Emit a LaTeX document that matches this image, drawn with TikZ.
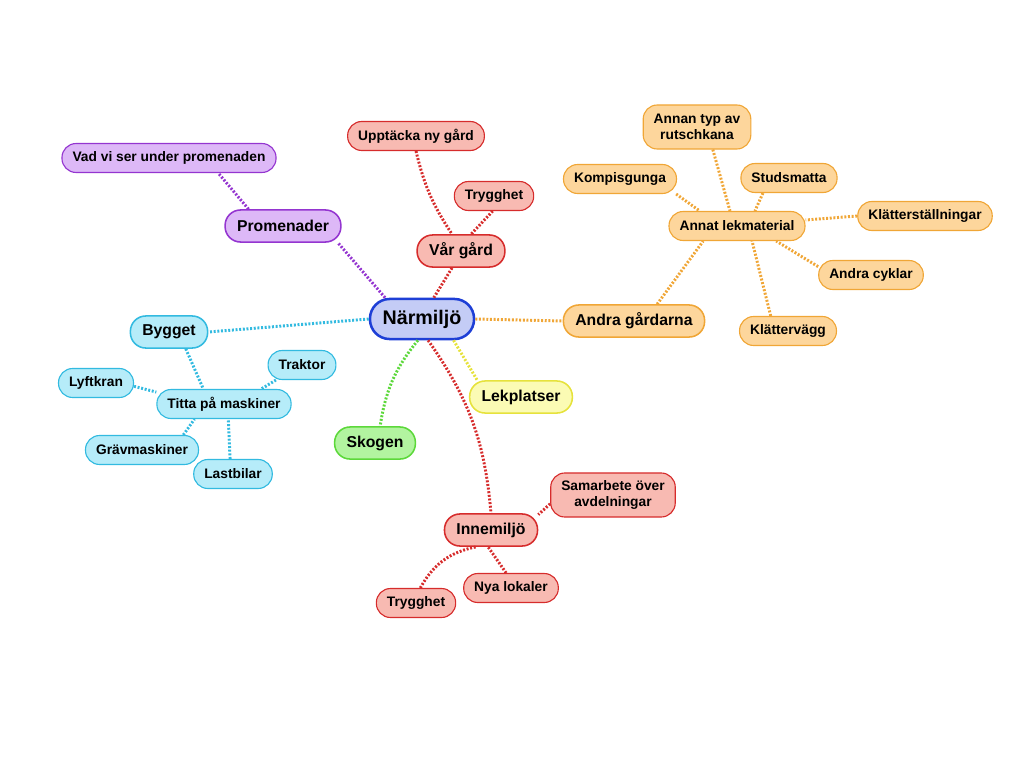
\documentclass[tikz,border=0pt]{standalone}
\usepackage{fontspec}
\setmainfont{Liberation Sans}
\definecolor{blueline}{HTML}{1E3FD6}
\definecolor{bluefill}{HTML}{C4CCF6}
\definecolor{purpline}{HTML}{9435D0}
\definecolor{purpfill}{HTML}{DDB8F7}
\definecolor{redline}{HTML}{D62C2C}
\definecolor{redfill}{HTML}{F8BAB2}
\definecolor{orangeline}{HTML}{F0A636}
\definecolor{orangefill}{HTML}{FDD69C}
\definecolor{cyanline}{HTML}{32BAE0}
\definecolor{cyanfill}{HTML}{B6ECF9}
\definecolor{yellowline}{HTML}{E6E23C}
\definecolor{yellowfill}{HTML}{FBFBB4}
\definecolor{greenline}{HTML}{5CD83A}
\definecolor{greenfill}{HTML}{B2F4A0}

\begin{document}
\begin{tikzpicture}[x=0.025cm,y=-0.025cm,
  hub/.style={draw=blueline,fill=bluefill,line width=1.8pt,rounded corners=14pt,minimum height=28.5pt,inner xsep=9pt,font=\fontsize{14}{16}\selectfont\bfseries},
  topic/.style={draw=#1line,fill=#1fill,line width=1.1pt,rounded corners=11pt,minimum height=22.8pt,inner xsep=8.5pt,font=\fontsize{11.2}{13}\selectfont\bfseries},
  leaf/.style={draw=#1line,fill=#1fill,line width=0.8pt,rounded corners=10pt,minimum height=20.6pt,inner xsep=7.5pt,inner ysep=4pt,align=center,font=\fontsize{9.8}{11.2}\selectfont\bfseries},
  twoline/.style={minimum height=31.3pt},
  link/.style={draw=#1line,line width=2.1pt,dash pattern=on 1.4pt off 1.2pt}]
\useasboundingbox (0,0) rectangle (1024,768);

\node[hub] (narmiljo) at (422,319) {Närmiljö};

\node[topic=purp] (promenader) at (283,226) {Promenader};
\node[leaf=purp] (vadvi) at (169,158) {Vad vi ser under promenaden};

\node[topic=red] (vargard) at (461,251) {Vår gård};
\node[leaf=red] (upptacka) at (416,136) {Upptäcka ny gård};
\node[leaf=red] (trygghet1) at (494,196) {Trygghet};

\node[topic=orange] (andra) at (634,321) {Andra gårdarna};
\node[leaf=orange] (annat) at (737,226) {Annat lekmaterial};
\node[leaf=orange,twoline] (rutschkana) at (697,127) {Annan typ av\\rutschkana};
\node[leaf=orange] (kompis) at (620,179) {Kompisgunga};
\node[leaf=orange] (studs) at (789,178) {Studsmatta};
\node[leaf=orange] (klatterst) at (925,216) {Klätterställningar};
\node[leaf=orange] (cyklar) at (871,275) {Andra cyklar};
\node[leaf=orange] (klattervagg) at (788,331) {Klättervägg};

\node[topic=cyan] (bygget) at (169,332) {Bygget};
\node[leaf=cyan] (titta) at (224,404) {Titta på maskiner};
\node[leaf=cyan] (traktor) at (302,365) {Traktor};
\node[leaf=cyan] (lyftkran) at (96,383) {Lyftkran};
\node[leaf=cyan] (gravm) at (142,450) {Grävmaskiner};
\node[leaf=cyan] (lastbilar) at (233,474) {Lastbilar};

\node[topic=yellow] (lekplatser) at (521,397) {Lekplatser};
\node[topic=green] (skogen) at (375,443) {Skogen};

\node[topic=red] (innemiljo) at (491,530) {Innemiljö};
\node[leaf=red,twoline] (samarbete) at (613,495) {Samarbete över\\avdelningar};
\node[leaf=red] (nyalokaler) at (511,588) {Nya lokaler};
\node[leaf=red] (trygghet2) at (416,603) {Trygghet};

\draw[link=purp] (narmiljo.150) -- (promenader.-17);
\draw[link=purp] (promenader.154) -- (vadvi.-17);

\draw[link=red] (narmiljo.61) -- (vargard.-118);
\draw[link=red] (upptacka.south) to[bend right=10] (vargard.118);
\draw[link=red] (trygghet1.-95) -- (vargard.59);

\draw[link=orange] (narmiljo.east) -- (andra.west);
\draw[link=orange] (andra.36) -- (annat.-156);
\draw[link=orange] (rutschkana.-55) -- (annat.115);
\draw[link=orange] (kompis.-15) -- (annat.158);
\draw[link=orange] (studs.-150) -- (annat.40);
\draw[link=orange] (klatterst.west) -- (annat.5);
\draw[link=orange] (cyklar.171) -- (annat.-21);
\draw[link=orange] (klattervagg.139) -- (annat.-45);

\draw[link=cyan] (narmiljo.west) -- (bygget.east);
\draw[link=cyan] (bygget.-45) -- (titta.144);
\draw[link=cyan] (traktor.-150) -- (titta.22);
\draw[link=cyan] (lyftkran.-5) -- (titta.170);
\draw[link=cyan] (gravm.20) -- (titta.-153);
\draw[link=cyan] (lastbilar.101) -- (titta.-74);

\draw[link=yellow] (narmiljo.-34) -- (lekplatser.159);
\draw[link=green] (narmiljo.-101) to[bend right=15] (skogen.73);

\draw[link=red] (narmiljo.-74) to[bend left=15] (innemiljo.north);
\draw[link=red] (samarbete.-172) -- (innemiljo.18);
\draw[link=red] (nyalokaler.108) -- (innemiljo.-100);
\draw[link=red] (trygghet2.74) to[bend left=25] (innemiljo.-131);
\end{tikzpicture}
\end{document}
